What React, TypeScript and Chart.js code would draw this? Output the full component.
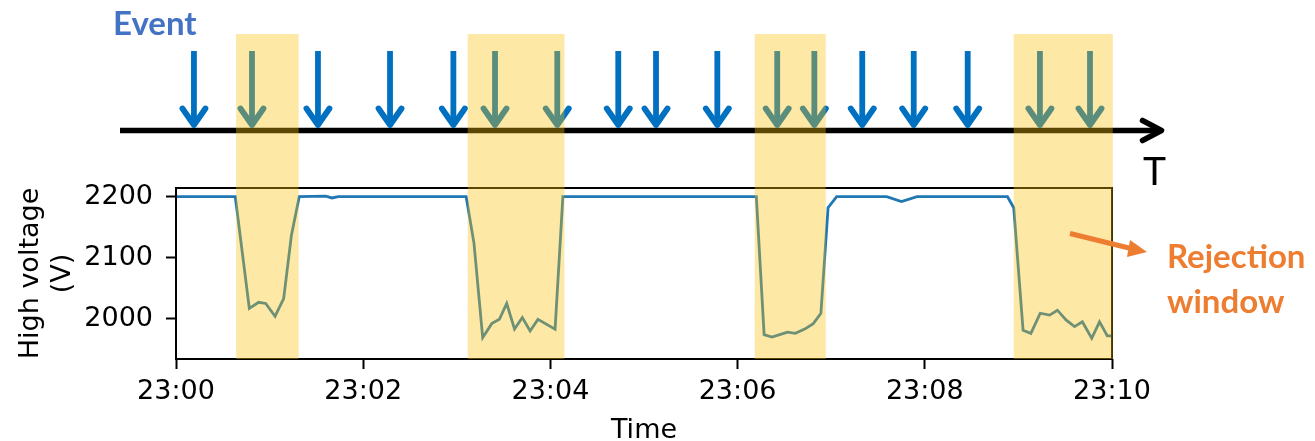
import React, { useEffect, useRef } from 'react';
import { Chart, registerables } from 'chart.js';

Chart.register(...registerables);

// High-voltage readings: seconds after 23:00:00 and the voltage at that moment
const hvSeconds = [
  0, 38, 47, 53, 57.5, 63.5, 69, 74, 79, 96, 100, 104,
  186, 191, 196.6, 202.4, 207.3, 212, 217, 222, 227, 232, 243, 248,
  372, 377, 382, 387, 392, 397, 403, 408.5, 413.4, 418, 423.5,
  455.6, 465, 475,
  533, 537, 543, 548, 554, 560, 565, 570.5, 576, 581, 587, 592, 597, 600,
];
const hvVolts = [
  2200, 2200, 2017, 2027, 2025, 2004, 2033, 2137, 2200, 2201, 2198, 2200,
  2200, 2124, 1969, 1992, 1999, 2025, 1983, 2002, 1980, 1999, 1983, 2200,
  2200, 1974, 1970, 1974, 1978, 1976, 1983, 1992, 2009, 2182, 2200,
  2200, 2192, 2200,
  2200, 2182, 1981, 1976, 2009, 2006, 2014, 1998, 1987, 1995, 1968, 1995, 1972, 1972,
];

// Detected events (seconds after 23:00:00)
const eventSeconds = [
  11.5, 48.7, 91, 137.2, 177.8, 204.5, 244.4, 283.5, 307.7,
  347, 385.4, 409.2, 439.9, 472.9, 507.5, 553.8, 585.9,
];

// Rejection windows (seconds after 23:00:00)
const windowStart = [38.5, 187, 371, 537];
const windowEnd = [78.6, 249, 416.5, 600.5];

const xTickSeconds = [0, 120, 240, 360, 480, 600];
const xTickLabels = ['23:00', '23:02', '23:04', '23:06', '23:08', '23:10'];
const yTickValues = [2000, 2100, 2200];

const WIDTH = 1315;
const HEIGHT = 441;
const EVENT_BLUE = '#0070C0';
const ORANGE = '#ED7D31';
const WINDOW_FILL = 'rgba(249, 192, 8, 0.365)';
const AXIS_FONT = 'DejaVu Sans';

const timelinePlugin = {
  id: 'eventTimeline',
  afterDatasetsDraw(chart: any) {
    const { ctx, chartArea, scales } = chart;
    const xs = scales.x;
    ctx.save();

    // axes frame
    ctx.strokeStyle = '#000';
    ctx.lineWidth = 2;
    ctx.strokeRect(chartArea.left, chartArea.top, chartArea.right - chartArea.left, chartArea.bottom - chartArea.top);

    // time axis of the event stream
    ctx.lineWidth = 5.5;
    ctx.lineCap = 'butt';
    ctx.beginPath();
    ctx.moveTo(120, 130.5);
    ctx.lineTo(1160, 130.5);
    ctx.stroke();
    ctx.lineCap = 'round';
    ctx.lineJoin = 'round';
    ctx.beginPath();
    ctx.moveTo(1142.5, 120.5);
    ctx.lineTo(1161.5, 130.5);
    ctx.lineTo(1142.5, 140.5);
    ctx.stroke();

    // event arrows
    ctx.strokeStyle = EVENT_BLUE;
    ctx.lineWidth = 5.8;
    for (const s of eventSeconds) {
      const x = xs.getPixelForValue(s);
      ctx.lineCap = 'butt';
      ctx.beginPath();
      ctx.moveTo(x, 51);
      ctx.lineTo(x, 124);
      ctx.stroke();
      ctx.lineCap = 'round';
      ctx.lineJoin = 'round';
      ctx.beginPath();
      ctx.moveTo(x - 11.5, 108.5);
      ctx.lineTo(x, 125);
      ctx.lineTo(x + 11.5, 108.5);
      ctx.stroke();
    }
    ctx.restore();
  },
  afterDraw(chart: any) {
    const { ctx, chartArea, scales } = chart;
    const xs = scales.x;
    ctx.save();

    // rejection windows over everything below
    ctx.fillStyle = WINDOW_FILL;
    for (let i = 0; i < windowStart.length; i++) {
      const x0 = xs.getPixelForValue(windowStart[i]);
      const x1 = xs.getPixelForValue(windowEnd[i]);
      ctx.fillRect(x0, 34, x1 - x0, chartArea.bottom - 34);
    }

    // annotation arrow
    ctx.strokeStyle = ORANGE;
    ctx.fillStyle = ORANGE;
    ctx.lineWidth = 5;
    ctx.lineCap = 'butt';
    ctx.beginPath();
    ctx.moveTo(1070, 233.5);
    ctx.lineTo(1131, 248.5);
    ctx.stroke();
    ctx.beginPath();
    ctx.moveTo(1147, 252);
    ctx.lineTo(1130, 240);
    ctx.lineTo(1127, 257);
    ctx.closePath();
    ctx.fill();

    // labels
    ctx.textBaseline = 'alphabetic';
    ctx.textAlign = 'left';
    ctx.font = 'bold 33px Lato';
    ctx.fillStyle = '#4472C4';
    ctx.fillText('Event', 113, 35);

    ctx.fillStyle = ORANGE;
    ctx.font = 'bold 33px Lato';
    ctx.fillText('Rejection', 1167, 268);
    ctx.fillText('window', 1167, 313);

    ctx.fillStyle = '#000';
    ctx.font = '39px Lato';
    ctx.fillText('T', 1143, 185);
    ctx.restore();
  },
};

export default function App() {
  const canvasRef = useRef<HTMLCanvasElement | null>(null);

  useEffect(() => {
    const canvas = canvasRef.current;
    if (!canvas) return;
    const points = hvSeconds.map((s, i) => ({ x: s, y: hvVolts[i] }));
    const tickFont = { family: AXIS_FONT, size: 27 };

    const chart = new Chart(canvas, {
      type: 'line',
      data: {
        datasets: [
          {
            data: points,
            borderColor: '#1f77b4',
            borderWidth: 2.8,
            pointRadius: 0,
            tension: 0,
            fill: false,
          },
        ],
      },
      options: {
        animation: false,
        responsive: false,
        devicePixelRatio: 1,
        layout: { padding: { left: 0, top: 188, right: 203, bottom: 0 } },
        plugins: { legend: { display: false }, tooltip: { enabled: false } },
        scales: {
          x: {
            type: 'linear',
            min: 0,
            max: 600,
            afterBuildTicks: (scale: any) => {
              scale.ticks = xTickSeconds.map((v) => ({ value: v }));
            },
            afterFit: (scale: any) => {
              scale.height = 82;
            },
            grid: {
              drawOnChartArea: false,
              drawTicks: true,
              tickLength: 10,
              tickWidth: 2,
              tickColor: '#000',
            },
            border: { display: false },
            ticks: {
              autoSkip: false,
              maxRotation: 0,
              minRotation: 0,
              padding: 7,
              color: '#000',
              font: tickFont,
              callback: (v: any) => {
                const i = xTickSeconds.indexOf(Number(v));
                return i >= 0 ? xTickLabels[i] : '';
              },
            },
            title: {
              display: true,
              text: 'Time',
              color: '#000',
              font: tickFont,
              padding: { top: 0, bottom: -5.9 },
            },
          },
          y: {
            type: 'linear',
            min: 1934,
            max: 2214.3,
            afterBuildTicks: (scale: any) => {
              scale.ticks = yTickValues.map((v) => ({ value: v }));
            },
            afterFit: (scale: any) => {
              scale.width = 176;
            },
            grid: {
              drawOnChartArea: false,
              drawTicks: true,
              tickLength: 10,
              tickWidth: 2,
              tickColor: '#000',
            },
            border: { display: false },
            ticks: {
              padding: 13,
              color: '#000',
              font: tickFont,
              callback: (v: any) => String(v),
            },
            title: {
              display: true,
              text: ['High voltage', '(V)'],
              color: '#000',
              font: tickFont,
              padding: { top: 14.8, bottom: 0 },
            },
          },
        },
      },
      plugins: [timelinePlugin],
    });

    return () => chart.destroy();
  }, []);

  return (
    <div style={{ position: 'fixed', left: 0, top: 0, width: WIDTH, height: HEIGHT, background: '#fff' }}>
      <canvas ref={canvasRef} width={WIDTH} height={HEIGHT} style={{ width: WIDTH, height: HEIGHT, display: 'block' }} />
    </div>
  );
}
